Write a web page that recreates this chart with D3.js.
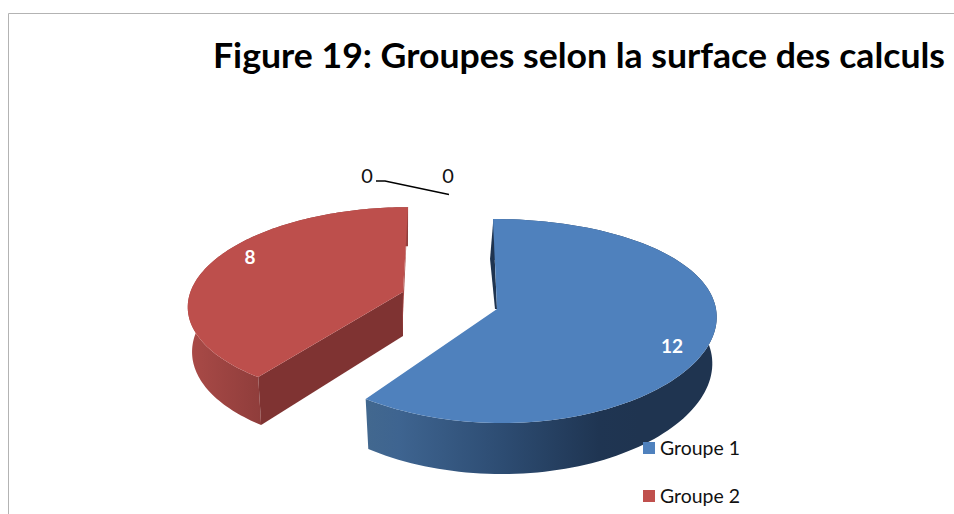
<!DOCTYPE html>
<html><head><meta charset="utf-8">
<script src="https://cdn.jsdelivr.net/npm/d3@7"></script>
<style>html,body{margin:0;padding:0;background:#fff;overflow:hidden}svg{display:block}text{font-family:Lato,"Open Sans",sans-serif}</style>
</head><body><div id="chart"></div>
<script>
const titleText = "Figure 19: Groupes selon la surface des calculs";
const categories = ["Groupe 1", "Groupe 2", "Groupe 3", "Groupe 4"];
const values = [12, 8, 0, 0];
const legendItems = ["Groupe 1", "Groupe 2"];

const W = 954, H = 514;
const svg = d3.select("#chart").append("svg").attr("width", W).attr("height", H);
const defs = svg.append("defs");

const blueGrad = defs.append("linearGradient").attr("id","blueWall").attr("gradientUnits","userSpaceOnUse")
  .attr("x1",366).attr("x2",640).attr("y1",0).attr("y2",0);
[[0,"#42688f"],[0.12,"#3e6490"],[0.5,"#2d4c72"],[0.85,"#1f3552"],[1,"#1f3450"]].forEach(([o,c])=>blueGrad.append("stop").attr("offset",o).attr("stop-color",c));
const redGrad = defs.append("linearGradient").attr("id","redWall").attr("gradientUnits","userSpaceOnUse")
  .attr("x1",190).attr("x2",262).attr("y1",0).attr("y2",0);
[[0,"#a94a47"],[1,"#8f3d3b"]].forEach(([o,c])=>redGrad.append("stop").attr("offset",o).attr("stop-color",c));

// frame
svg.append("path").attr("d",`M8.5,${H}V13.5H${W}`).attr("fill","none").attr("stroke","#b3b3b3").attr("stroke-width",1);

const pieAngles = d3.pie().sort(null).value(d=>d)(values);

const styles = [
  {cx:497,cy:309,rx:219,ry:100.6,kx:.06,ky:.1176,s:.044,depth:46,
   top:"#4f81bd",front:"url(#blueWall)",inner:"#1f3450",face:"#1f3450",label:[672,346],innerOff:-3},
  {cx:403,cy:292,rx:212.6,ry:95,kx:.13,ky:.12,s:-.06,depth:44,
   top:"#bd4f4c",front:"url(#redWall)",inner:"#a94a47",face:"#7f3332",label:[250,257],innerOff:0}
];

function proj(st, a, lower){
  const u = Math.sin(a), v = -Math.cos(a);
  const dy = st.ry*v/(1-st.ky*v);
  let x = st.rx*u/(1-st.kx*v) + st.s*dy;
  let y = dy;
  if(lower){ x *= 0.98; y += st.depth*(1+.11*v); }
  return [st.cx+x, st.cy+y];
}
const line = d3.line();
const g = svg.append("g");

[1,0].forEach(i=>{
  const st = styles[i], d = pieAngles[i];
  const n = 120;
  const angs = d3.range(n+1).map(t=>d3.scaleLinear().domain([0,n]).range([d.startAngle,d.endAngle])(t));
  // curved outer wall
  g.append("path").attr("fill",st.front)
   .attr("d",line(angs.map(a=>proj(st,a,false)).concat(angs.slice().reverse().map(a=>proj(st,a,true))))+"Z");
  // flat cut wall
  const cutA = i===0 ? d.endAngle : d.startAngle;
  const apex=[st.cx,st.cy], apexLow=[st.cx,st.cy+st.depth];
  if(i===1){
    const t=proj(st,cutA,false), b=proj(st,cutA,true);
    g.append("path").attr("fill",st.face).attr("d",line([apex,t,b,apexLow])+"Z");
    const far=proj(st,d.endAngle,false);
    g.append("path").attr("fill",st.inner).attr("d",line([far,[apexLow[0]-1,apexLow[1]],apex])+"Z");
  } else {
    const far=proj(st,d.startAngle,false);
    g.append("path").attr("fill",st.inner).attr("d",line([[far[0],far[1]+4],[far[0]+st.innerOff,far[1]+40],[apex[0]+st.innerOff+1,apex[1]],apex])+"Z");
  }
  // top face
  g.append("path").attr("fill",st.top).attr("d",line([apex].concat(angs.map(a=>proj(st,a,false))))+"Z");
  // value label
  g.append("text").attr("x",st.label[0]).attr("y",st.label[1]).attr("dy","0.36em").attr("text-anchor","middle")
   .attr("fill","#fff").attr("font-weight",700).attr("font-size",19).text(values[i]);
});

// zero labels with leader
svg.append("path").attr("d",line([[376,181],[385,181],[449,194.5]])).attr("fill","none").attr("stroke","#000").attr("stroke-width",1.3);
[[367,values[2]],[448,values[3]]].forEach(([x,v])=>svg.append("text").attr("x",x).attr("y",176).attr("dy","0.36em")
  .attr("text-anchor","middle").attr("font-size",20).attr("fill","#111").text(v));

// title
svg.append("text").attr("x",213).attr("y",68).attr("font-size",35).attr("font-weight",700).attr("fill","#000")
  .attr("textLength",732).attr("lengthAdjust","spacingAndGlyphs").text(titleText);

// legend
const legY = d3.scalePoint().domain(legendItems).range([448,496]);
const colors = d3.scaleOrdinal().domain(categories).range(["#4f81bd","#c0504d"]);
legendItems.forEach(name=>{
  svg.append("rect").attr("x",643).attr("y",legY(name)-6).attr("width",12).attr("height",12).attr("fill",colors(name));
  svg.append("text").attr("x",660).attr("y",legY(name)+7).attr("font-size",20).attr("fill","#111")
    .attr("textLength",80).attr("lengthAdjust","spacingAndGlyphs").text(name);
});
</script></body></html>
